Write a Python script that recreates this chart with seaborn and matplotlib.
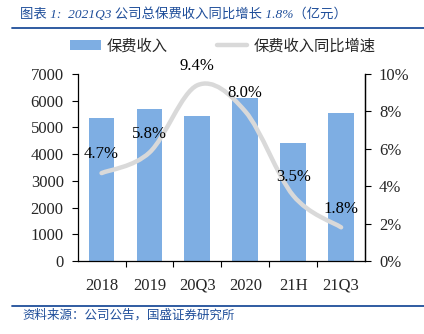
import numpy as np
import pandas as pd
import seaborn as sns
import matplotlib
matplotlib.use("Agg")
import matplotlib.pyplot as plt
from matplotlib.path import Path
from matplotlib.patches import PathPatch, Patch
from matplotlib.lines import Line2D

categories = ["2018", "2019", "20Q3", "2020", "21H", "21Q3"]
premium = [5360, 5680, 5430, 6120, 4420, 5540]
growth = [4.7, 5.8, 9.4, 8.0, 3.5, 1.8]
growth_labels = ["4.7%", "5.8%", "9.4%", "8.0%", "3.5%", "1.8%"]
left_ticks = [0, 1000, 2000, 3000, 4000, 5000, 6000, 7000]
right_ticks = [0, 2, 4, 6, 8, 10]

sns.set_theme(style="white")
plt.rcParams['font.family'] = ['Liberation Serif', 'Noto Sans CJK SC']
plt.rcParams['axes.unicode_minus'] = False

BAR = "#7EAEE3"
LINE = "#D9D9D9"
BLUE = "#1F4E9A"

fig = plt.figure(figsize=(4.24, 3.34), dpi=100)
ax = fig.add_axes([0.183, 0.2186, 0.678, 0.5598])

df = pd.DataFrame({"cat": categories, "val": premium})
sns.barplot(data=df, x="cat", y="val", color=BAR, width=0.54, ax=ax,
            saturation=1, edgecolor="none")
ax.set_ylim(0, 7000)
ax.set_xlim(-0.5, len(categories) - 0.5)
ax.set_yticks(left_ticks)
ax.set_yticklabels([str(t) for t in left_ticks], fontsize=12)
ax.set_xlabel("")
ax.set_ylabel("")
ax.set_xticks(range(len(categories)))
ax.set_xticklabels(categories, fontsize=12)
ax.set_xticks(np.arange(0.5, len(categories) - 1, 1.0), minor=True)
ax.tick_params(axis="x", which="major", length=0, pad=12)
ax.tick_params(axis="x", which="minor", length=4, width=0.8, color="black", direction="out", bottom=True)
ax.tick_params(axis="y", length=4, width=0.8, color="black", direction="out", left=True, pad=6)
for s in ["left", "bottom", "right"]:
    ax.spines[s].set_visible(True)
    ax.spines[s].set_color("black")
    ax.spines[s].set_linewidth(0.9)
ax.spines["top"].set_visible(False)

ax2 = ax.twinx()
ax2.set_ylim(0, 10)
ax2.set_yticks(right_ticks)
ax2.set_yticklabels([f"{t}%" for t in right_ticks], fontsize=12)
ax2.tick_params(axis="y", length=4, width=0.8, color="black", direction="out", right=True, pad=6)
ax2.spines["top"].set_visible(False)
ax2.spines["left"].set_visible(False)
ax2.spines["bottom"].set_visible(False)
ax2.spines["right"].set_color("black")
ax2.spines["right"].set_linewidth(0.9)
ax2.grid(False)
ax.grid(False)

# smooth line through the growth points (Catmull-Rom as cubic Bezier segments)
xs = np.arange(len(growth), dtype=float)
ys = np.array(growth, dtype=float)
pts = np.column_stack([xs, ys])
verts = [tuple(pts[0])]
codes = [Path.MOVETO]
n = len(pts)
for i in range(n - 1):
    p0 = pts[i - 1] if i > 0 else pts[i]
    p1 = pts[i]
    p2 = pts[i + 1]
    p3 = pts[i + 2] if i + 2 < n else pts[i + 1]
    c1 = p1 + (p2 - p0) / 6.0
    c2 = p2 - (p3 - p1) / 6.0
    verts += [tuple(c1), tuple(c2), tuple(p2)]
    codes += [Path.CURVE4] * 3
patch = PathPatch(Path(verts, codes), facecolor="none", edgecolor=LINE,
                  linewidth=3.2, capstyle="round", joinstyle="round", zorder=3)
ax2.add_patch(patch)

for x, y, lab in zip(xs, ys, growth_labels):
    ax2.annotate(lab, (x, y), xytext=(0, 13.5), textcoords="offset points",
                 ha="center", va="center", fontsize=12, color="black", zorder=5)

# legend
handles = [Patch(facecolor=BAR, edgecolor="none"),
           Line2D([0], [0], color=LINE, lw=3.2)]
fig.legend(handles, ["保费收入", "保费收入同比增速"], loc="center",
           bbox_to_anchor=(0.525, 0.862), ncol=2, frameon=False, fontsize=11,
           handlelength=2.0, handleheight=0.6, columnspacing=3.2, handletextpad=0.4)

# title and footer
fig.text(0.047, 0.958, "图表 1:  2021Q3 公司总保费收入同比增长 1.8%（亿元）",
         fontsize=9.6, color=BLUE, style="italic", ha="left", va="center")
fig.add_artist(Line2D([0.028, 1.0], [0.916, 0.916], color=BLUE, lw=1.3,
                      transform=fig.transFigure))
fig.add_artist(Line2D([0.028, 1.0], [0.085, 0.085], color=BLUE, lw=1.3,
                      transform=fig.transFigure))
fig.text(0.052, 0.055, "资料来源：公司公告，国盛证券研究所", fontsize=9,
         color=BLUE, style="italic", ha="left", va="center")

fig.savefig("out.png", dpi=100)
